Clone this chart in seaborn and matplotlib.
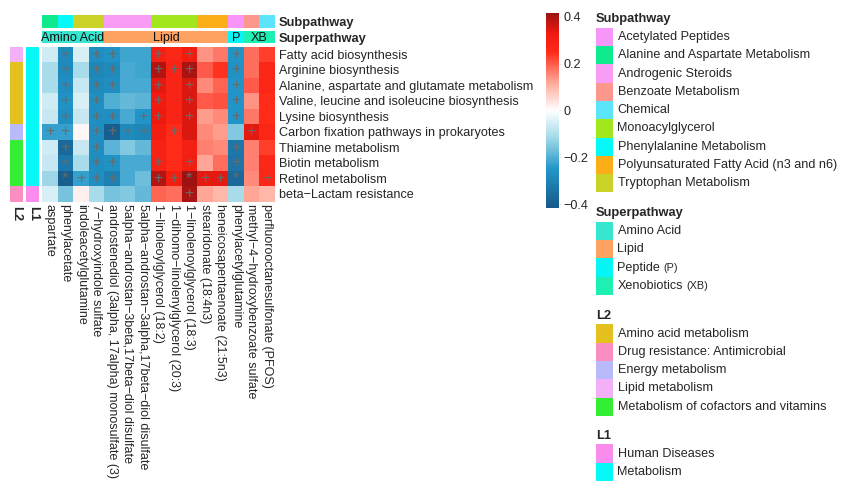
import numpy as np
import pandas as pd
import seaborn as sns
import matplotlib.pyplot as plt
from matplotlib.colors import LinearSegmentedColormap, ListedColormap
from matplotlib.patches import Rectangle

sns.set_theme(style="white")
plt.rcParams['font.family'] = ['Liberation Sans', 'DejaVu Sans']
plt.rcParams['axes.unicode_minus'] = True

# ---- data ----
pathways = ["Fatty acid biosynthesis", "Arginine biosynthesis",
            "Alanine, aspartate and glutamate metabolism",
            "Valine, leucine and isoleucine biosynthesis", "Lysine biosynthesis",
            "Carbon fixation pathways in prokaryotes", "Thiamine metabolism",
            "Biotin metabolism", "Retinol metabolism", "beta\u2212Lactam resistance"]

metabolites = ["aspartate", "phenylacetate", "indoleacetylglutamine",
               "7\u2212hydroxyindole sulfate",
               "androstenediol (3alpha, 17alpha) monosulfate (3)",
               "5alpha\u2212androstan\u22123beta,17beta\u2212diol disulfate",
               "5alpha\u2212androstan\u22123alpha,17beta\u2212diol disulfate",
               "1\u2212linoleoylglycerol (18:2)",
               "1\u2212dihomo\u2212linolenylglycerol (20:3)",
               "1\u2212linolenoylglycerol (18:3)", "stearidonate (18:4n3)",
               "heneicosapentaenoate (21:5n3)", "phenylacetylglutamine",
               "methyl\u22124\u2212hydroxybenzoate sulfate",
               "perfluorooctanesulfonate (PFOS)"]

values = [
    [-0.06, -0.28, -0.05, -0.27, -0.26, -0.22, -0.22, 0.30, 0.27, 0.32, 0.14, 0.17, -0.25, 0.18, 0.23],
    [-0.11, -0.28, -0.11, -0.29, -0.28, -0.21, -0.22, 0.39, 0.28, 0.40, 0.20, 0.24, -0.26, 0.18, 0.27],
    [-0.11, -0.27, -0.07, -0.28, -0.27, -0.21, -0.21, 0.34, 0.28, 0.35, 0.15, 0.19, -0.25, 0.20, 0.27],
    [-0.06, -0.26, -0.05, -0.27, -0.20, -0.18, -0.19, 0.32, 0.28, 0.35, 0.20, 0.21, -0.25, 0.14, 0.25],
    [-0.07, -0.27, -0.07, -0.27, -0.27, -0.21, -0.25, 0.33, 0.28, 0.35, 0.13, 0.15, -0.25, 0.17, 0.25],
    [-0.23, -0.23, 0.01, -0.27, -0.40, -0.28, -0.29, 0.31, 0.25, 0.35, 0.15, 0.13, -0.15, 0.34, 0.27],
    [-0.06, -0.37, -0.07, -0.27, -0.19, -0.15, -0.18, 0.29, 0.25, 0.30, 0.16, 0.15, -0.33, 0.16, 0.23],
    [-0.07, -0.33, -0.11, -0.27, -0.26, -0.21, -0.21, 0.29, 0.25, 0.31, 0.12, 0.18, -0.34, 0.16, 0.26],
    [-0.12, -0.40, -0.23, -0.27, -0.31, -0.21, -0.17, 0.39, 0.31, 0.41, 0.34, 0.34, -0.37, 0.15, 0.27],
    [-0.05, -0.16, 0.02, -0.11, -0.16, -0.15, -0.18, 0.19, 0.18, 0.40, 0.12, 0.10, -0.11, 0.12, 0.10],
]

marks = [
    " + ++  + +  +  ",
    " + ++  +++  +  ",
    " + ++  + +  +  ",
    " + +   + +  +  ",
    " + ++ ++ +  +  ",
    "++ ++++ +    + ",
    " + +        +  ",
    " + ++  + +  +  ",
    " *+++  ++*++* +",
    "         +     ",
]

subpathway = ["Alanine and Aspartate Metabolism", "Phenylalanine Metabolism",
              "Tryptophan Metabolism", "Tryptophan Metabolism",
              "Androgenic Steroids", "Androgenic Steroids", "Androgenic Steroids",
              "Monoacylglycerol", "Monoacylglycerol", "Monoacylglycerol",
              "Polyunsaturated Fatty Acid (n3 and n6)",
              "Polyunsaturated Fatty Acid (n3 and n6)",
              "Acetylated Peptides", "Benzoate Metabolism", "Chemical"]
superpathway = ["Amino Acid"] * 4 + ["Lipid"] * 8 + ["Peptide"] + ["Xenobiotics"] * 2
super_short = {"Amino Acid": "Amino Acid", "Lipid": "Lipid", "Peptide": "P", "Xenobiotics": "XB"}

l2 = ["Lipid metabolism"] + ["Amino acid metabolism"] * 4 + ["Energy metabolism"] + \
     ["Metabolism of cofactors and vitamins"] * 3 + ["Drug resistance: Antimicrobial"]
l1 = ["Metabolism"] * 9 + ["Human Diseases"]

sub_colors = {
    "Acetylated Peptides": "#f895f8",
    "Alanine and Aspartate Metabolism": "#10ea8e",
    "Androgenic Steroids": "#f99cf6",
    "Benzoate Metabolism": "#fc978e",
    "Chemical": "#5ce4fa",
    "Monoacylglycerol": "#a2e61e",
    "Phenylalanine Metabolism": "#06f8f8",
    "Polyunsaturated Fatty Acid (n3 and n6)": "#fbae18",
    "Tryptophan Metabolism": "#cbd227",
}
super_colors = {
    "Amino Acid": "#36e6cf",
    "Lipid": "#fda261",
    "Peptide": "#06f6f6",
    "Xenobiotics": "#1ef0b4",
}
l2_colors = {
    "Amino acid metabolism": "#e4c11f",
    "Drug resistance: Antimicrobial": "#fb8ec0",
    "Energy metabolism": "#b8bafa",
    "Lipid metabolism": "#f4b0f6",
    "Metabolism of cofactors and vitamins": "#33ee33",
}
l1_colors = {
    "Human Diseases": "#f98cec",
    "Metabolism": "#06f8f8",
}

# ---- layout helpers (pixels) ----
W, H = 846, 490
def rect(l, t, w, h):
    return [l / W, 1 - (t + h) / H, w / W, h / H]

vlim = 0.415
cmap = LinearSegmentedColormap.from_list("cor", [
    (0.0, "#17598a"),
    ((-0.25 + vlim) / (2 * vlim), "#2196c8"),
    ((-0.12 + vlim) / (2 * vlim), "#9fd8e8"),
    (0.5, "#ffffff"),
    ((0.12 + vlim) / (2 * vlim), "#ffa898"),
    ((0.25 + vlim) / (2 * vlim), "#ff2a18"),
    ((0.33 + vlim) / (2 * vlim), "#ee1a10"),
    (1.0, "#9c1212"),
])

fs = 9.1
fig = plt.figure(figsize=(W / 100, H / 100), dpi=100)

hl, ht, hw, hh = 42, 46.7, 232.5, 155
ax = fig.add_axes(rect(hl, ht, hw, hh))
cax = fig.add_axes(rect(546, 13, 13, 195))

df = pd.DataFrame(values, index=pathways, columns=metabolites)
annot = np.array([list(m) for m in marks])
sns.heatmap(df, ax=ax, cmap=cmap, vmin=-vlim, vmax=vlim, cbar_ax=cax,
            annot=annot, fmt="", annot_kws={"color": "#6a6a6a", "fontsize": 11.5},
            xticklabels=True, yticklabels=True)
ax.yaxis.tick_right()
ax.tick_params(axis="y", length=0, pad=3, labelsize=fs, rotation=0)
ax.tick_params(axis="x", length=0, pad=2, labelsize=9.0)
for t in ax.get_xticklabels():
    t.set_rotation(270)
    t.set_va("top")
    t.set_ha("center")
ax.set_xlabel("")
ax.set_ylabel("")

cbar = ax.collections[0].colorbar
cbar.outline.set_visible(False)
cbar.set_ticks([-0.4, -0.2, 0, 0.2, 0.4])
cbar.set_ticklabels(["\u22120.4", "\u22120.2", "0", "0.2", "0.4"])
cax.tick_params(length=1.5, width=0.6, color="#dddddd", labelsize=fs, pad=1.5)

# ---- column annotations ----
def col_bar(top, labels, colors, name):
    a = fig.add_axes(rect(hl, top, hw, 12.7))
    keys = list(colors)
    codes = [[keys.index(s) for s in labels]]
    sns.heatmap(codes, ax=a, cmap=ListedColormap(list(colors.values())),
                vmin=-0.5, vmax=len(keys) - 0.5, cbar=False,
                xticklabels=False, yticklabels=[name])
    a.yaxis.tick_right()
    a.tick_params(axis="y", length=0, pad=3, rotation=0)
    for t in a.get_yticklabels():
        t.set_fontweight("bold")
        t.set_fontsize(9.3)
    return a

col_bar(15, subpathway, sub_colors, "Subpathway")
ax_sup = col_bar(30.7, superpathway, super_colors, "Superpathway")

start = 0
for i in range(1, len(superpathway) + 1):
    if i == len(superpathway) or superpathway[i] != superpathway[start]:
        ax_sup.text((start + i) / 2, 0.55, super_short[superpathway[start]],
                    ha="center", va="center", fontsize=fs, color="#111111")
        start = i

# ---- row annotations ----
def row_bar(left, width, labels, colors, name):
    a = fig.add_axes(rect(left, ht, width, hh))
    keys = list(colors)
    codes = [[keys.index(s)] for s in labels]
    sns.heatmap(codes, ax=a, cmap=ListedColormap(list(colors.values())),
                vmin=-0.5, vmax=len(keys) - 0.5, cbar=False,
                xticklabels=[name], yticklabels=False)
    a.tick_params(axis="x", length=0, pad=3)
    for t in a.get_xticklabels():
        t.set_rotation(270)
        t.set_va("top")
        t.set_ha("center")
        t.set_fontweight("bold")
        t.set_fontsize(9.3)

row_bar(10, 12.7, l2, l2_colors, "L2")
row_bar(26, 13.3, l1, l1_colors, "L1")

# ---- legends ----
lax = fig.add_axes([0, 0, 1, 1])
lax.set_xlim(0, W)
lax.set_ylim(H, 0)
lax.axis("off")

def legend_block(title, colors, title_y, top, extra=None):
    lax.text(596, title_y, title, fontsize=9.3, fontweight="bold", va="center", ha="left")
    for k, (name, col) in enumerate(colors.items()):
        y = top + k * 18.3
        lax.add_patch(Rectangle((595.5, y), 17.8, 18.3, facecolor=col, edgecolor="none"))
        txt = lax.text(617.5, y + 9.2, name, fontsize=fs, va="center", ha="left")
        if extra and name in extra:
            lax.annotate(extra[name], xy=(1, 0.5), xycoords=txt, xytext=(2.5, 0),
                         textcoords="offset points", fontsize=7.8, va="center", ha="left")

legend_block("Subpathway", sub_colors, 19, 27.7)
legend_block("Superpathway", super_colors, 213, 221.8,
             extra={"Peptide": "(P)", "Xenobiotics": "(XB)"})
legend_block("L2", l2_colors, 316, 324.3)
legend_block("L1", l1_colors, 436, 444.3)

fig.savefig("out.png", dpi=100)
